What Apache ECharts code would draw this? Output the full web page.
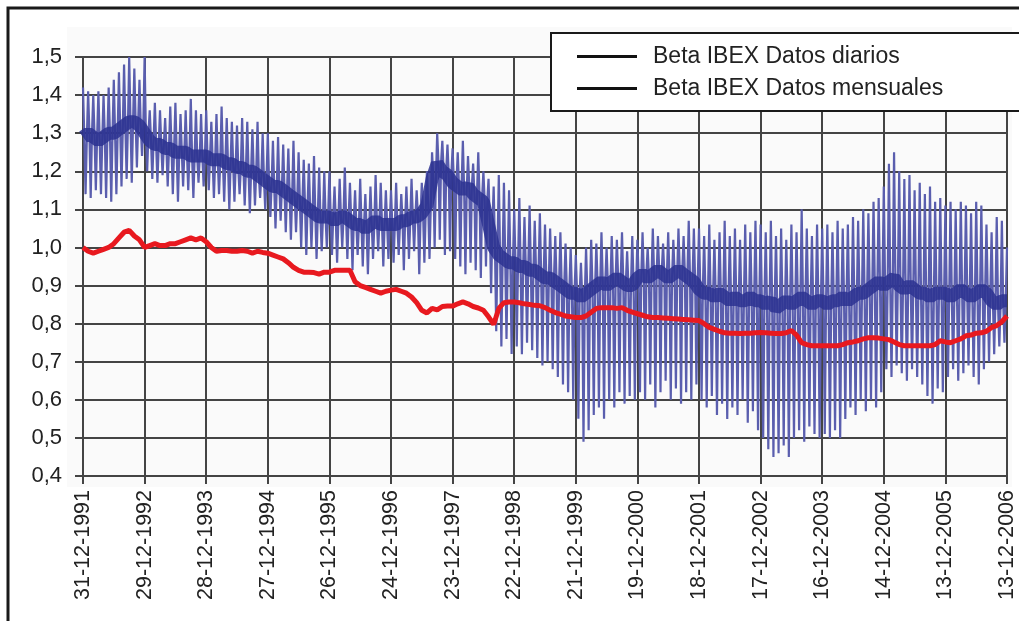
<!DOCTYPE html>
<html>
<head>
<meta charset="utf-8">
<script src="https://cdn.jsdelivr.net/npm/echarts@6/dist/echarts.min.js"></script>
<style>
  html, body { margin: 0; padding: 0; background: #fff; }
  #chart { width: 1019px; height: 621px; }
</style>
</head>
<body>
<div id="chart"></div>
<script>
// tick labels on the x axis (one per year, 31-12-1991 .. 13-12-2006)
var dateLabels = ['31-12-1991', '29-12-1992', '28-12-1993', '27-12-1994', '26-12-1995',
  '24-12-1996', '23-12-1997', '22-12-1998', '21-12-1999', '19-12-2000', '18-12-2001',
  '17-12-2002', '16-12-2003', '14-12-2004', '13-12-2005', '13-12-2006']

// daily beta, read month by month: top of the spikes, bottom of the spikes, dense core
var dailyHigh = [
  1.42, 1.41, 1.40, 1.41, 1.40, 1.42, 1.44, 1.46, 1.48, 1.50, 1.47, 1.44,
  1.50, 1.36, 1.38, 1.36, 1.34, 1.37, 1.38, 1.35, 1.36, 1.39, 1.36, 1.35,
  1.36, 1.33, 1.35, 1.37, 1.34, 1.33, 1.32, 1.34, 1.33, 1.31, 1.33, 1.30,
  1.30, 1.28, 1.29, 1.27, 1.26, 1.28, 1.25, 1.23, 1.22, 1.24, 1.21, 1.20,
  1.20, 1.16, 1.18, 1.21, 1.17, 1.15, 1.18, 1.14, 1.16, 1.19, 1.17, 1.15,
  1.15, 1.17, 1.14, 1.16, 1.18, 1.15, 1.17, 1.20, 1.25, 1.30, 1.28, 1.27,
  1.26, 1.25, 1.28, 1.24, 1.22, 1.25, 1.20, 1.18, 1.16, 1.19, 1.17, 1.15,
  1.10, 1.13, 1.08, 1.11, 1.07, 1.09, 1.06, 1.05, 1.03, 1.04, 1.01, 1.00,
  0.98, 0.96, 1.00, 1.02, 1.01, 1.04, 1.00, 1.03, 1.02, 1.04, 0.99, 1.03,
  1.02, 1.04, 1.00, 1.05, 1.03, 1.01, 1.04, 1.02, 1.05, 1.03, 1.07, 1.05,
  1.05, 1.03, 1.06, 1.02, 1.04, 1.07, 1.03, 1.05, 1.02, 1.06, 1.04, 1.07,
  1.06, 1.04, 1.07, 1.03, 1.05, 1.02, 1.06, 1.04, 1.10, 1.05, 1.03, 1.06,
  1.05, 1.06, 1.04, 1.07, 1.05, 1.06, 1.08, 1.07, 1.10, 1.09, 1.12, 1.13,
  1.16, 1.22, 1.25, 1.20, 1.18, 1.19, 1.15, 1.17, 1.14, 1.16, 1.12, 1.13,
  1.11, 1.12, 1.10, 1.12, 1.11, 1.09, 1.12, 1.11, 1.06, 1.04, 1.08, 1.07, 1.00
]
var dailyLow = [
  1.14, 1.13, 1.15, 1.14, 1.13, 1.12, 1.14, 1.16, 1.18, 1.17, 1.21, 1.24,
  1.20, 1.18, 1.17, 1.19, 1.16, 1.14, 1.12, 1.16, 1.15, 1.13, 1.17, 1.16,
  1.15, 1.13, 1.14, 1.12, 1.10, 1.12, 1.14, 1.11, 1.09, 1.11, 1.13, 1.10,
  1.08, 1.05, 1.07, 1.04, 1.02, 1.04, 1.00, 0.98, 1.00, 0.97, 0.99, 1.00,
  0.98, 0.96, 1.00, 0.97, 0.94, 0.98, 0.95, 0.93, 0.97, 0.99, 0.95, 0.97,
  0.96, 0.98, 0.94, 0.97, 0.99, 0.93, 0.96, 0.97, 1.00, 1.02, 0.98, 0.99,
  0.97, 0.95, 0.93, 0.96, 0.94, 0.92, 0.95, 0.88, 0.78, 0.74, 0.76, 0.72,
  0.74, 0.72, 0.75, 0.73, 0.71, 0.69, 0.70, 0.68, 0.66, 0.64, 0.62, 0.60,
  0.55, 0.49, 0.52, 0.56, 0.58, 0.55, 0.60, 0.58, 0.62, 0.59, 0.61, 0.60,
  0.62, 0.60, 0.64, 0.58, 0.62, 0.65, 0.60, 0.63, 0.59, 0.62, 0.60, 0.64,
  0.60, 0.58, 0.61, 0.56, 0.59, 0.55, 0.58, 0.56, 0.60, 0.54, 0.57, 0.52,
  0.50, 0.47, 0.45, 0.46, 0.48, 0.45, 0.50, 0.52, 0.49, 0.53, 0.51, 0.50,
  0.51, 0.50, 0.52, 0.50, 0.55, 0.58, 0.56, 0.60, 0.57, 0.60, 0.58, 0.62,
  0.68, 0.66, 0.69, 0.67, 0.65, 0.68, 0.66, 0.64, 0.61, 0.59, 0.63, 0.62,
  0.66, 0.68, 0.65, 0.67, 0.69, 0.66, 0.64, 0.68, 0.70, 0.72, 0.74, 0.75, 0.76
]
var dailyCore = [
  1.29, 1.30, 1.29, 1.28, 1.29, 1.30, 1.30, 1.31, 1.32, 1.33, 1.33, 1.32,
  1.30, 1.28, 1.27, 1.27, 1.26, 1.26, 1.25, 1.25, 1.25, 1.24, 1.24, 1.24,
  1.24, 1.23, 1.23, 1.23, 1.22, 1.22, 1.21, 1.21, 1.20, 1.20, 1.19, 1.18,
  1.17, 1.16, 1.16, 1.15, 1.14, 1.13, 1.12, 1.11, 1.10, 1.09, 1.08, 1.08,
  1.08, 1.07, 1.08, 1.08, 1.07, 1.06, 1.06, 1.05, 1.06, 1.07, 1.06, 1.06,
  1.06, 1.06, 1.07, 1.07, 1.08, 1.08, 1.09, 1.11, 1.18, 1.22, 1.20, 1.19,
  1.17, 1.16, 1.15, 1.16, 1.14, 1.13, 1.12, 1.06, 1.00, 0.98, 0.97, 0.96,
  0.96, 0.95, 0.95, 0.94, 0.94, 0.93, 0.92, 0.92, 0.91, 0.90, 0.89, 0.88,
  0.88, 0.87, 0.88, 0.89, 0.90, 0.91, 0.90, 0.91, 0.92, 0.91, 0.90, 0.90,
  0.92, 0.93, 0.92, 0.93, 0.94, 0.93, 0.92, 0.93, 0.94, 0.93, 0.92, 0.91,
  0.89, 0.88, 0.88, 0.87, 0.88, 0.87, 0.86, 0.87, 0.86, 0.86, 0.87, 0.86,
  0.86, 0.85, 0.86, 0.84, 0.85, 0.86, 0.85, 0.86, 0.87, 0.86, 0.85, 0.86,
  0.86, 0.85, 0.86, 0.86, 0.87, 0.86, 0.87, 0.88, 0.88, 0.89, 0.90, 0.91,
  0.90, 0.91, 0.92, 0.90, 0.89, 0.90, 0.89, 0.88, 0.88, 0.87, 0.88, 0.88,
  0.88, 0.87, 0.88, 0.89, 0.88, 0.87, 0.88, 0.89, 0.88, 0.86, 0.85, 0.86, 0.86
]

// monthly beta
var monthly = [
  1.00, 0.99, 0.985, 0.99, 0.995, 1.00, 1.01, 1.025, 1.04, 1.045, 1.03, 1.02,
  1.00, 1.005, 1.01, 1.005, 1.005, 1.01, 1.01, 1.015, 1.02, 1.025, 1.02, 1.025,
  1.015, 1.00, 0.99, 0.992, 0.992, 0.99, 0.99, 0.992, 0.99, 0.985, 0.99, 0.987,
  0.985, 0.98, 0.975, 0.97, 0.96, 0.948, 0.94, 0.935, 0.935, 0.934, 0.93, 0.935,
  0.935, 0.94, 0.94, 0.94, 0.94, 0.91, 0.90, 0.895, 0.89, 0.885, 0.88, 0.885,
  0.888, 0.89, 0.885, 0.88, 0.87, 0.855, 0.835, 0.828, 0.84, 0.836, 0.845, 0.846,
  0.846, 0.852, 0.857, 0.852, 0.845, 0.841, 0.835, 0.818, 0.798, 0.84, 0.855, 0.857,
  0.857, 0.855, 0.852, 0.85, 0.848, 0.847, 0.842, 0.835, 0.829, 0.825, 0.82, 0.818,
  0.816, 0.816, 0.82, 0.83, 0.84, 0.842, 0.842, 0.842, 0.84, 0.842, 0.835, 0.83,
  0.826, 0.822, 0.818, 0.816, 0.816, 0.815, 0.814, 0.813, 0.812, 0.811, 0.81, 0.809,
  0.808, 0.80, 0.79, 0.785, 0.78, 0.776, 0.775, 0.775, 0.774, 0.775, 0.775, 0.776,
  0.777, 0.776, 0.775, 0.774, 0.774, 0.776, 0.782, 0.77, 0.75, 0.745, 0.742, 0.742,
  0.742, 0.742, 0.742, 0.742, 0.745, 0.75, 0.752, 0.755, 0.76, 0.763, 0.763, 0.762,
  0.76, 0.758, 0.752, 0.745, 0.742, 0.742, 0.742, 0.742, 0.742, 0.742, 0.745, 0.755,
  0.752, 0.75, 0.755, 0.76, 0.768, 0.77, 0.775, 0.776, 0.78, 0.79, 0.795, 0.805, 0.82
]

var nameDaily = 'Beta IBEX Datos diarios'
var nameMonthly = 'Beta IBEX Datos mensuales'

// x is in years since 31-12-1991; each month goes top, core, bottom, core
var spikeData = []
var coreData = []
var monthlyData = []
for (var m = 0; m < dailyHigh.length; m++) {
  var t = m / 12
  var seq = [dailyHigh[m], dailyCore[m], dailyLow[m], dailyCore[m]]
  for (var k = 0; k < seq.length; k++) {
    var tk = t + k / 48
    if (tk <= 15) spikeData.push([tk, seq[k]])
  }
  coreData.push([t, dailyCore[m]])
}
for (var i = 0; i < monthly.length; i++) {
  monthlyData.push([i / 12, monthly[i]])
}

var chart = echarts.init(document.getElementById('chart'))
var font = 'Liberation Sans, Arial, sans-serif'

var option = {
  animation: false,
  backgroundColor: '#fff',
  graphic: [
    { type: 'rect', z: -10, shape: { x: 67, y: 27, width: 945, height: 460 },
      style: { fill: '#fafafa' } },
    { type: 'rect', z: 100, shape: { x: 8, y: 8, width: 1040, height: 640 },
      style: { fill: 'none', stroke: '#1a1a1a', lineWidth: 3 } }
  ],
  grid: { left: 83, right: 12, top: 57, bottom: 145 },
  legend: {
    orient: 'vertical',
    left: 551,
    top: 33,
    padding: [12, 120, 11, 26],
    itemGap: 9,
    itemWidth: 60,
    itemHeight: 3,
    borderColor: '#1a1a1a',
    borderWidth: 2,
    backgroundColor: '#fff',
    textStyle: { fontFamily: font, fontSize: 23, color: '#222', padding: [0, 0, 0, 11] },
    data: [
      { name: nameDaily, icon: 'rect', itemStyle: { color: '#111' } },
      { name: nameMonthly, icon: 'rect', itemStyle: { color: '#111' } }
    ]
  },
  xAxis: {
    type: 'value',
    min: 0,
    max: 15,
    interval: 1,
    axisLine: { show: true, lineStyle: { color: '#444', width: 2 } },
    axisTick: { show: true, length: 8, lineStyle: { color: '#444', width: 2 } },
    splitLine: { show: true, lineStyle: { color: '#444', width: 2 } },
    axisLabel: {
      rotate: 90,
      margin: 14,
      fontFamily: font,
      fontSize: 21.5,
      color: '#222',
      formatter: function (v) { return dateLabels[Math.round(v)] }
    }
  },
  yAxis: {
    type: 'value',
    min: 0.4,
    max: 1.5,
    interval: 0.1,
    axisLine: { show: false },
    axisTick: { show: true, length: 8, lineStyle: { color: '#444', width: 2 } },
    splitLine: { show: true, lineStyle: { color: '#444', width: 2 } },
    axisLabel: {
      margin: 21,
      fontFamily: font,
      fontSize: 22,
      color: '#222',
      formatter: function (v) { return v.toFixed(1).replace('.', ',') }
    }
  },
  series: [
    {
      name: nameDaily, type: 'line', symbol: 'none', data: spikeData,
      lineStyle: { color: '#5a5eae', width: 2.2 }, z: 2
    },
    {
      name: nameDaily, type: 'line', symbol: 'none', data: coreData,
      lineStyle: { color: '#2b3190', width: 13, opacity: 0.85 }, z: 3
    },
    {
      name: nameMonthly, type: 'line', symbol: 'none', data: monthlyData,
      lineStyle: { color: '#e8191f', width: 5 }, z: 4
    }
  ]
}
chart.setOption(option)
</script>
</body>
</html>
